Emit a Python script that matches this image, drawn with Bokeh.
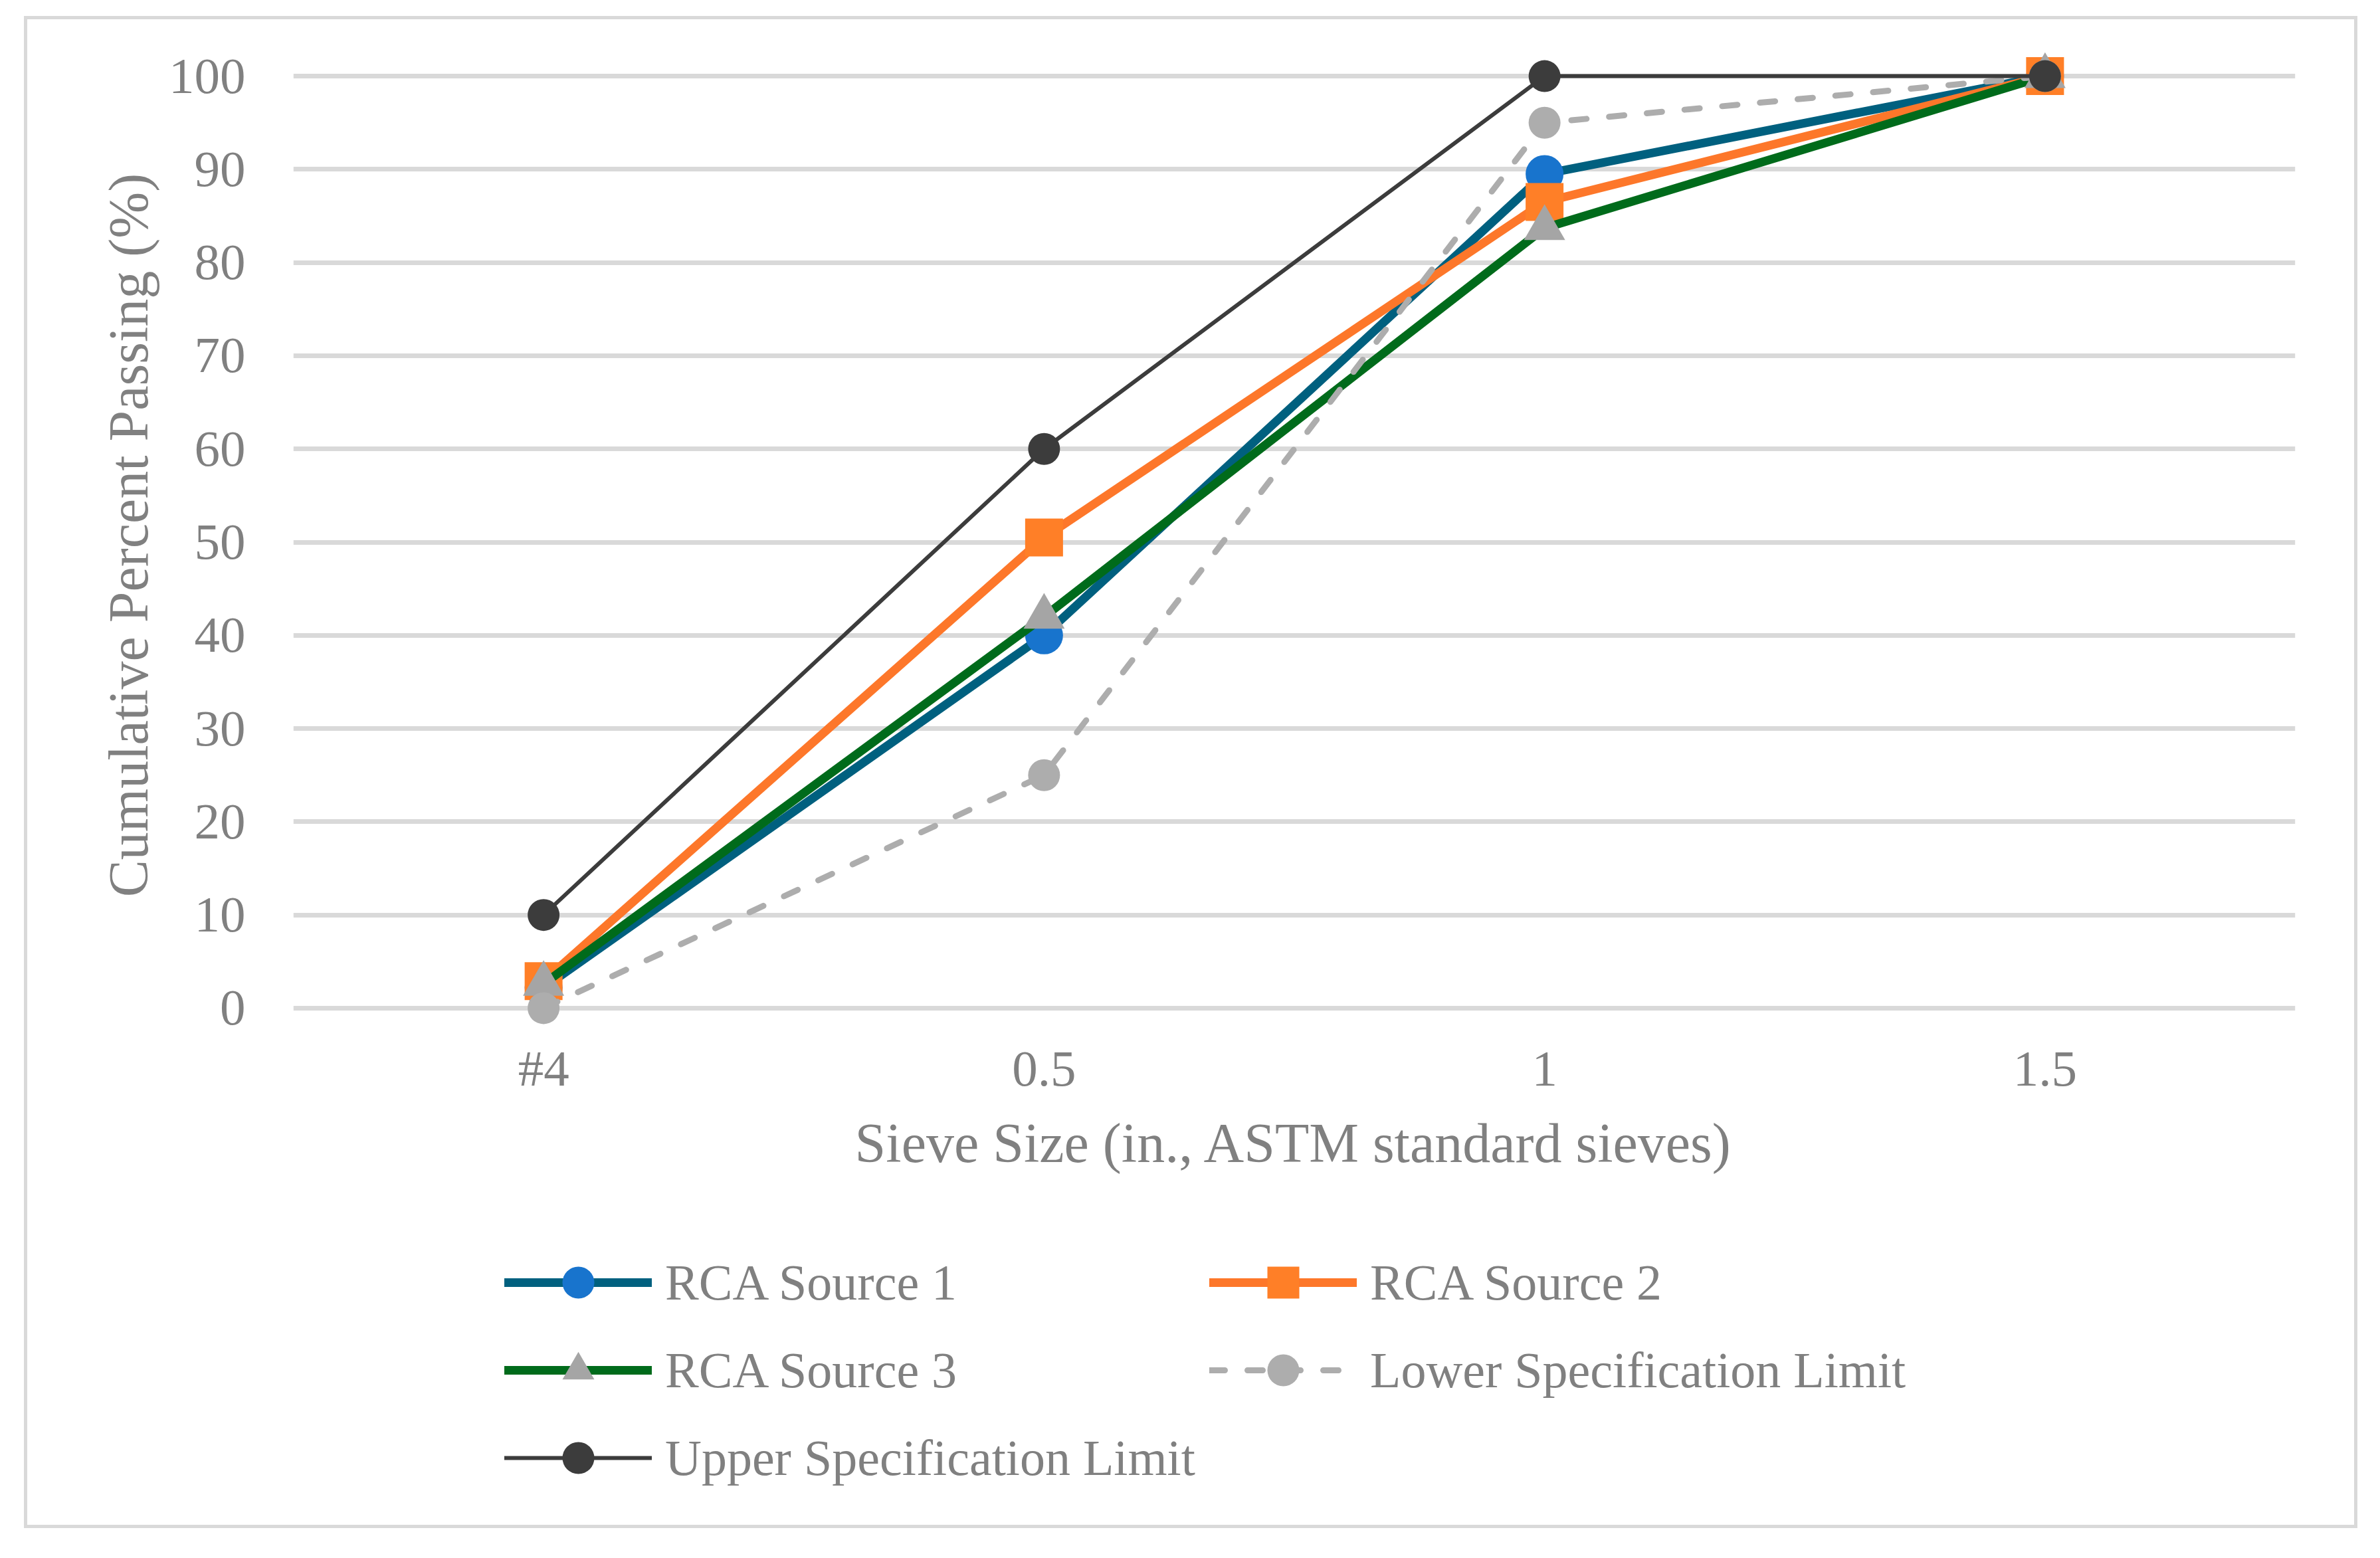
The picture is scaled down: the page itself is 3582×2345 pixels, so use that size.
from bokeh.plotting import figure
from bokeh.layouts import column
from bokeh.models import FactorRange, Range1d, FixedTicker, Legend, LegendItem
from bokeh.embed import file_html
from bokeh.resources import INLINE

sieves = ["#4", "0.5", "1", "1.5"]
rca1 = [2.2, 40.0, 89.5, 100.0]
rca2 = [2.9, 50.5, 86.5, 100.0]
rca3 = [2.6, 42.0, 83.7, 100.0]
lower = [0.0, 25.0, 95.0, 100.0]
upper = [10.0, 60.0, 100.0, 100.0]
y_ticks = [0, 10, 20, 30, 40, 50, 60, 70, 80, 90, 100]
names = ["RCA Source 1", "RCA Source 2", "RCA Source 3",
         "Lower Specification Limit", "Upper Specification Limit"]

FONT = "Liberation Serif"
TXT = "#808080"
BORDER = "5px solid #D9D9D9"

styles_list = [
    dict(line_color="#00607F", line_width=13, marker="circle", size=57, fill="#1874CD", dash="solid"),
    dict(line_color="#FD772A", line_width=13, marker="square", size=57, fill="#FF7F27", dash="solid"),
    dict(line_color="#006B1B", line_width=13, marker="triangle", size=62, fill="#A5A5A5", dash="solid"),
    dict(line_color="#ADADAD", line_width=9, marker="circle", size=48, fill="#ADADAD", dash="23 34"),
    dict(line_color="#3C3C3C", line_width=6, marker="circle", size=48, fill="#3C3C3C", dash="solid"),
]
series = [rca1, rca2, rca3, lower, upper]

# ---------------- main chart ----------------
p = figure(x_range=FactorRange(factors=sieves), y_range=Range1d(-2.5, 104),
           width=3502, height=1771, output_backend="svg", toolbar_location=None,
           min_border_left=400, min_border_right=99, min_border_top=29,
           min_border_bottom=253)
p.styles = {"border-top": BORDER, "border-left": BORDER, "border-right": BORDER,
            "box-sizing": "content-box"}
p.outline_line_color = None
p.background_fill_color = "white"
p.border_fill_color = "white"

p.xgrid.grid_line_color = None
p.ygrid.grid_line_color = "#D9D9D9"
p.ygrid.grid_line_width = 7
p.yaxis.ticker = FixedTicker(ticks=y_ticks)

for ax in (p.xaxis, p.yaxis):
    ax.axis_line_color = None
    ax.major_tick_line_color = None
    ax.minor_tick_line_color = None
    ax.major_label_text_font = FONT
    ax.major_label_text_font_size = "77px"
    ax.major_label_text_color = TXT
    ax.axis_label_text_font = FONT
    ax.axis_label_text_font_size = "84px"
    ax.axis_label_text_color = TXT
    ax.axis_label_text_font_style = "normal"

p.xaxis.axis_label = "Sieve Size (in., ASTM standard sieves)"
p.yaxis.axis_label = "Cumulative Percent Passing (%)"
p.yaxis.major_label_standoff = 66
p.xaxis.major_label_standoff = 6
p.yaxis.axis_label_standoff = 11
p.xaxis.axis_label_standoff = 20

for ys, st in zip(series, styles_list):
    p.line(sieves, ys, line_color=st["line_color"], line_width=st["line_width"],
           line_dash=st["dash"], line_cap="round" if st["dash"] != "solid" else "butt")
    p.scatter(sieves, ys, marker=st["marker"], size=st["size"],
              fill_color=st["fill"], line_color=None)

# ---------------- legend panel ----------------
pl = figure(x_range=FactorRange(factors=sieves), y_range=Range1d(1000, 1001),
            width=3502, height=495, output_backend="svg", toolbar_location=None,
            x_axis_type=None, y_axis_type=None, min_border=0)
pl.styles = {"border-bottom": BORDER, "border-left": BORDER, "border-right": BORDER,
             "box-sizing": "content-box"}
pl.outline_line_color = None
pl.background_fill_color = "white"
pl.border_fill_color = "white"

items = []
for name, ys, st in zip(names, series, styles_list):
    lr = pl.line(sieves, ys, line_color=st["line_color"], line_width=st["line_width"],
                 line_dash=st["dash"], line_cap="round")
    mr = pl.scatter(sieves, ys, marker=st["marker"], size=st["size"],
                    fill_color=st["fill"], line_color=None)
    items.append(LegendItem(label=name, renderers=[lr, mr]))

legend = Legend(items=items, location=(318, 46), orientation="horizontal", ncols=2,
                glyph_width=222, glyph_height=120, label_height=120, label_width=807,
                label_standoff=20, spacing=12, padding=0, margin=0,
                border_line_color=None, background_fill_alpha=0,
                label_text_font=FONT, label_text_font_size="76px", label_text_color=TXT)
pl.add_layout(legend, "center")

layout = column(p, pl, spacing=0)
layout.margin = (24, 0, 0, 36)

open("out.html", "w").write(file_html(layout, INLINE))
